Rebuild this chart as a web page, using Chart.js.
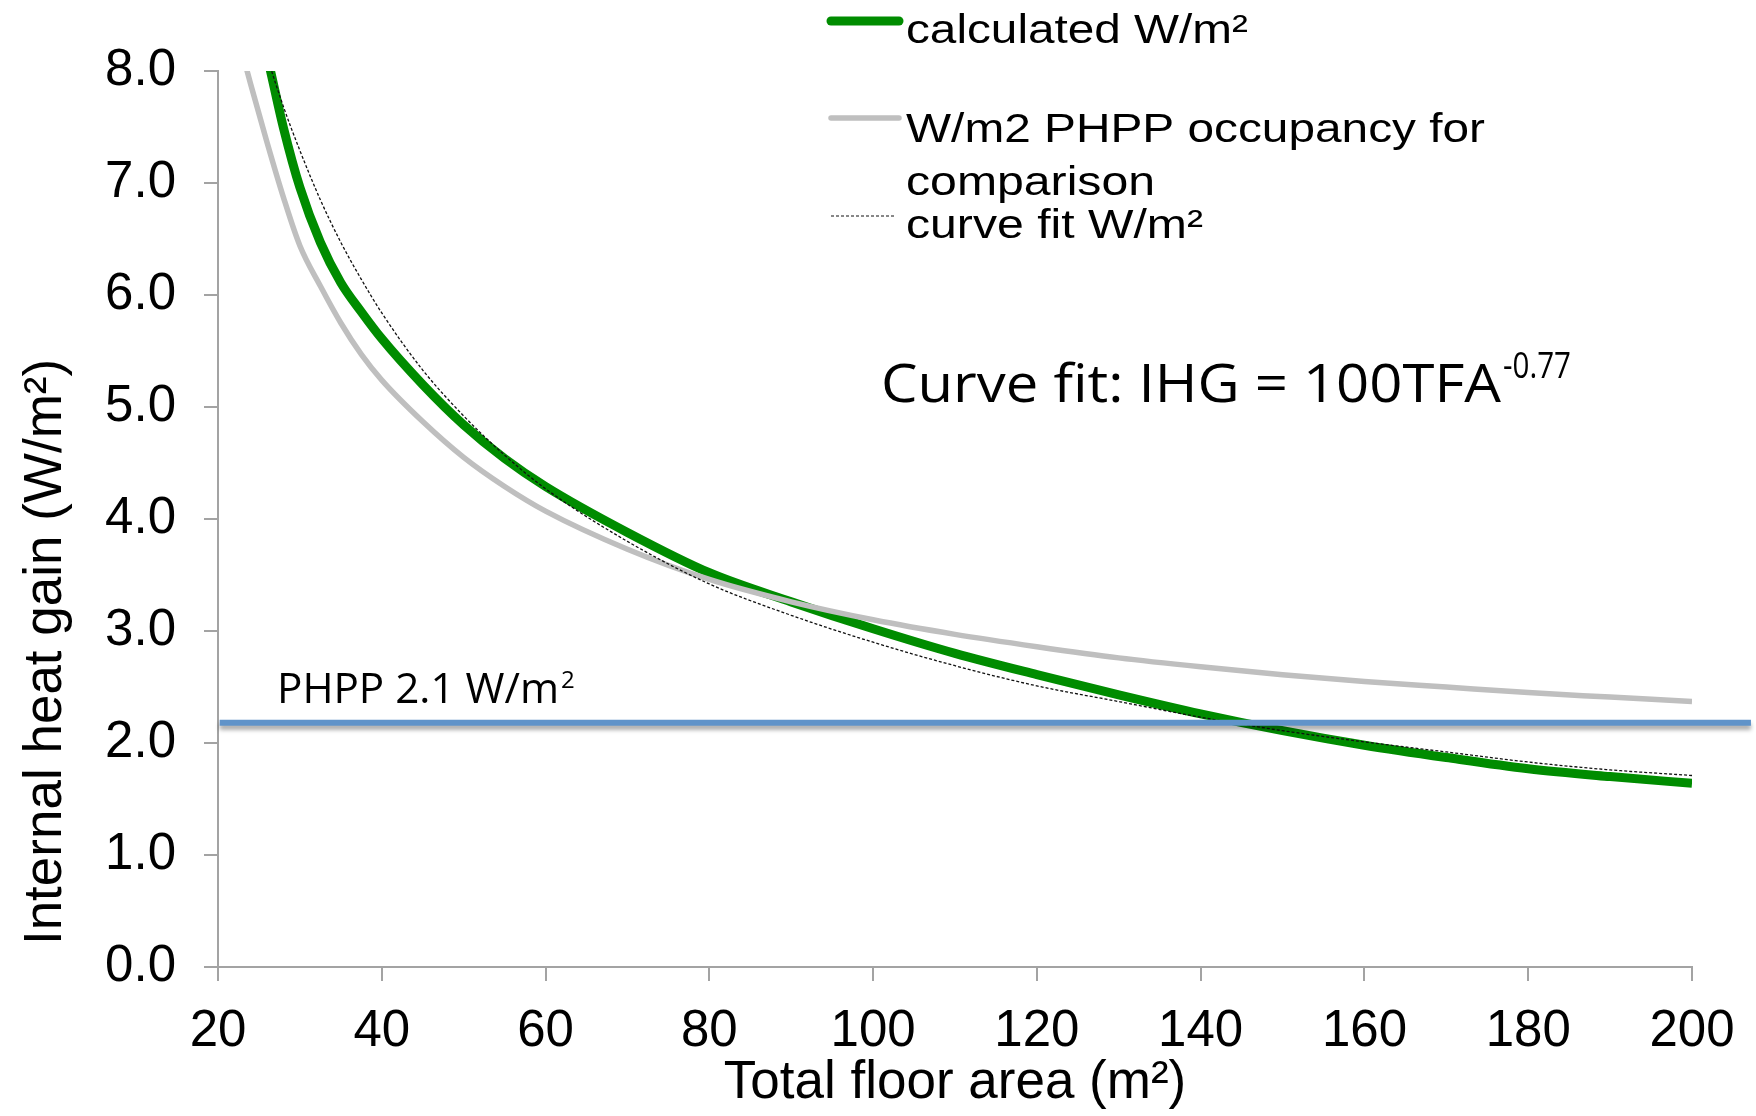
<!DOCTYPE html>
<html>
<head>
<meta charset="utf-8">
<script src="https://cdn.jsdelivr.net/npm/chart.js@4.4.1/dist/chart.umd.min.js"></script>
<style>
  html, body { margin: 0; padding: 0; background: #fff; }
  #wrap { width: 1756px; height: 1116px; position: relative; }
</style>
</head>
<body>
<div id="wrap"><canvas id="chart"></canvas></div>
<script>
var floorArea = [22, 24, 26, 28, 30, 32.5, 35, 37.5, 40, 45, 50, 55, 60, 70, 80, 90, 100, 110, 120, 130, 140, 150, 160, 170, 180, 190, 200];
// internal heat gain, W/m²
var calculated    = [9.34, 8.69, 8.13, 7.49, 6.96, 6.47, 6.11, 5.85, 5.61, 5.20, 4.84, 4.54, 4.29, 3.88, 3.52, 3.26, 3.02, 2.80, 2.61, 2.43, 2.26, 2.11, 1.98, 1.87, 1.77, 1.70, 1.64];
var phppOccupancy = [8.42, 7.88, 7.36, 6.87, 6.44, 6.08, 5.75, 5.47, 5.24, 4.87, 4.55, 4.29, 4.07, 3.73, 3.46, 3.26, 3.10, 2.97, 2.86, 2.76, 2.68, 2.61, 2.55, 2.50, 2.45, 2.41, 2.37];
var curveFit      = [9.25, 8.65, 8.13, 7.68, 7.29, 6.85, 6.47, 6.14, 5.84, 5.33, 4.92, 4.57, 4.27, 3.80, 3.42, 3.14, 2.90, 2.69, 2.51, 2.37, 2.23, 2.11, 2.01, 1.92, 1.83, 1.76, 1.71];
// flat PHPP default line
var phppFlatArea  = [20.2, 207.2];
var phppFlatValue = [2.18, 2.18];

var seriesNames = ['calculated W/m²', 'W/m2 PHPP occupancy for comparison', 'curve fit W/m²'];
var xTicks = [20, 40, 60, 80, 100, 120, 140, 160, 180, 200];
var yTicks = [0, 1, 2, 3, 4, 5, 6, 7, 8];

function pts(xs, ys) {
  return xs.map(function (x, i) { return { x: x, y: ys[i] }; });
}

// draw text stretched to a given width
function drawFitted(ctx, text, x, y, font, width) {
  ctx.save();
  ctx.font = font;
  ctx.textAlign = 'left';
  ctx.textBaseline = 'alphabetic';
  var w = ctx.measureText(text).width;
  ctx.translate(x, y);
  if (width) ctx.scale(width / w, 1);
  ctx.fillText(text, 0, 0);
  ctx.restore();
}

var shadowPlugin = {
  id: 'flatShadow',
  beforeDatasetDraw: function (chart, args) {
    if (args.index !== 3) return;
    var ctx = chart.ctx;
    ctx.save();
    ctx.shadowColor = 'rgba(0,0,0,0.35)';
    ctx.shadowOffsetY = 4;
    ctx.shadowBlur = 4;
  },
  afterDatasetDraw: function (chart, args) {
    if (args.index !== 3) return;
    chart.ctx.restore();
  }
};

var textPlugin = {
  id: 'texts',
  afterDraw: function (chart) {
    var ctx = chart.ctx;
    var ds = chart.data.datasets;
    ctx.save();
    ctx.fillStyle = '#000';

    // y axis title
    ctx.save();
    ctx.translate(61, 652);
    ctx.rotate(-Math.PI / 2);
    ctx.font = '53px "Liberation Sans", Arial, sans-serif';
    ctx.textAlign = 'center';
    ctx.textBaseline = 'alphabetic';
    ctx.fillText('Internal heat gain (W/m²)', 0, 0);
    ctx.restore();

    // legend
    var rows = [
      { marker: 21, lines: [[seriesNames[0], 43, 342]] },
      { marker: 118, lines: [['W/m2 PHPP occupancy for', 142, 579], ['comparison', 195, 249]] },
      { marker: 216, lines: [[seriesNames[2], 238, 297]] }
    ];
    rows.forEach(function (r, i) {
      var d = ds[i];
      ctx.save();
      ctx.strokeStyle = d.borderColor;
      ctx.lineWidth = i === 2 ? 1 : d.borderWidth;
      ctx.lineCap = i === 2 ? 'butt' : 'round';
      ctx.setLineDash(d.borderDash || []);
      ctx.beginPath();
      ctx.moveTo(831, r.marker);
      ctx.lineTo(i === 2 ? 895 : 899, r.marker);
      ctx.stroke();
      ctx.restore();
      r.lines.forEach(function (l) {
        drawFitted(ctx, l[0], 906, l[1], '40px "Liberation Sans", Arial, sans-serif', l[2]);
      });
    });

    // curve fit equation
    drawFitted(ctx, 'Curve fit: IHG = 100TFA', 881, 402, '53px "Open Sans", sans-serif', 620);
    drawFitted(ctx, '-0.77', 1503, 378, '36px "Open Sans", sans-serif', 68);

    // flat line label
    drawFitted(ctx, 'PHPP 2.1 W/m', 277, 703, '42px "Open Sans", sans-serif', 282);
    drawFitted(ctx, '2', 561, 688, '24px "Open Sans", sans-serif', 0);

    ctx.restore();
  }
};

var axisGray = '#a3a3a3';

var config = {
  type: 'line',
  data: {
    datasets: [
      {
        label: seriesNames[0],
        data: pts(floorArea, calculated),
        borderColor: '#008c00',
        borderWidth: 9,
        pointRadius: 0,
        cubicInterpolationMode: 'monotone',
        order: 4
      },
      {
        label: seriesNames[1],
        data: pts(floorArea, phppOccupancy),
        borderColor: '#bfbfbf',
        borderWidth: 5.5,
        pointRadius: 0,
        cubicInterpolationMode: 'monotone',
        order: 3
      },
      {
        label: seriesNames[2],
        data: pts(floorArea, curveFit),
        borderColor: '#111',
        borderWidth: 1.3,
        borderDash: [3, 2],
        pointRadius: 0,
        cubicInterpolationMode: 'monotone',
        order: 2
      },
      {
        label: 'PHPP 2.1 W/m²',
        data: pts(phppFlatArea, phppFlatValue),
        borderColor: '#6093c9',
        borderWidth: 6,
        pointRadius: 0,
        clip: false,
        order: 1
      }
    ]
  },
  options: {
    responsive: true,
    maintainAspectRatio: false,
    animation: false,
    devicePixelRatio: 1,
    layout: { padding: { left: 0, right: 64, top: 71, bottom: 0 } },
    plugins: {
      legend: { display: false },
      tooltip: { enabled: false }
    },
    scales: {
      x: {
        type: 'linear',
        min: 20,
        max: 200,
        afterBuildTicks: function (s) { s.ticks = xTicks.map(function (v) { return { value: v }; }); },
        afterFit: function (s) { s.height = 149; },
        grid: { drawOnChartArea: false, drawTicks: true, tickLength: 14, color: axisGray, lineWidth: 2 },
        border: { color: axisGray, width: 2 },
        ticks: {
          color: '#000',
          padding: 20,
          maxRotation: 0,
          autoSkip: false,
          font: { family: '"Liberation Sans", Arial, sans-serif', size: 51 }
        },
        title: {
          display: true,
          text: 'Total floor area (m²)',
          color: '#000',
          padding: { top: 0, bottom: 1 },
          font: { family: '"Liberation Sans", Arial, sans-serif', size: 53 }
        }
      },
      y: {
        min: 0,
        max: 8,
        afterBuildTicks: function (s) { s.ticks = yTicks.map(function (v) { return { value: v }; }); },
        afterFit: function (s) { s.width = 218; },
        grid: { drawOnChartArea: false, drawTicks: true, tickLength: 14, color: axisGray, lineWidth: 2 },
        border: { color: axisGray, width: 2 },
        ticks: {
          color: '#000',
          padding: 28,
          autoSkip: false,
          font: { family: '"Liberation Sans", Arial, sans-serif', size: 51 },
          callback: function (v) { return Number(v).toFixed(1); }
        }
      }
    }
  },
  plugins: [shadowPlugin, textPlugin]
};

var ctx = document.getElementById('chart').getContext('2d');
window.heatChart = new Chart(ctx, config);
</script>
</body>
</html>
